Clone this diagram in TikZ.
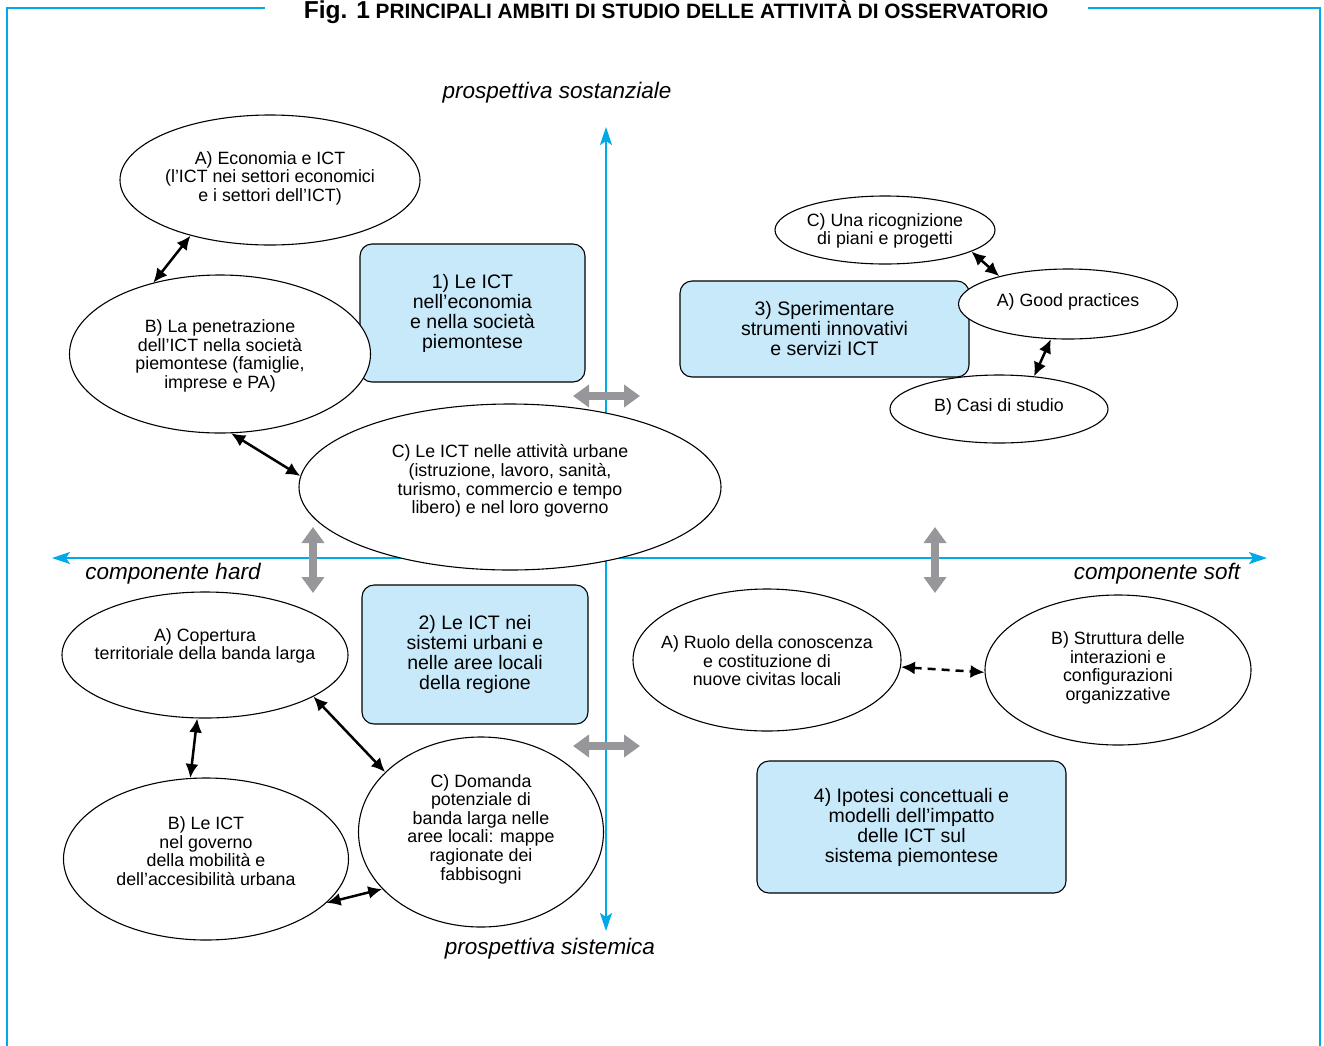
\documentclass[tikz,border=0pt]{standalone}
\usepackage{fontspec}
\setmainfont{Liberation Sans}
\usetikzlibrary{shapes.geometric,arrows.meta}
\definecolor{axcyan}{RGB}{0,170,230}
\definecolor{boxblue}{RGB}{200,233,249}
\definecolor{arrgrey}{RGB}{150,150,155}
\begin{document}
\begin{tikzpicture}[x=1pt,y=-1pt,
  ell/.style={ellipse, draw, fill=white, line width=1.1pt, inner sep=0pt},
  etxt/.style={align=center, inner sep=0pt, font=\fontsize{17.8}{18.6}\selectfont},
  bx/.style={rectangle, rounded corners=12pt, draw, fill=boxblue, line width=1.1pt, align=center, inner sep=0pt, font=\fontsize{19.5}{20}\selectfont},
  biarr/.style={{Latex[length=14pt,width=13pt]}-{Latex[length=14pt,width=13pt]}, line width=2.5pt},
  grarr/.style={{Triangle[length=16pt,width=22pt]}-{Triangle[length=16pt,width=22pt]}, line width=7.5pt, draw=arrgrey, fill=arrgrey},
  axisline/.style={draw=axcyan, line width=2.2pt, -{Stealth[length=18pt,width=12pt,inset=4pt]}},
  axlab/.style={inner sep=0pt, font=\fontsize{22.5}{26}\selectfont\itshape},
  framel/.style={draw=axcyan, line width=2pt}
]
\useasboundingbox (0,0) rectangle (1324,1045);
% frame
\coordinate (fa) at (265,8);
\coordinate (fb) at (7,1046);
\coordinate (fc) at (1088,8);
\coordinate (fd) at (1320,1046);
\draw[framel] (fa) -| (fb);
\draw[framel] (fc) -| (fd);
% title
\node[anchor=base, inner sep=0pt] (title) at (676,18.5) {{\fontsize{24.5}{26}\selectfont\bfseries Fig. 1}\ \ {\fontsize{20.8}{22}\selectfont\bfseries PRINCIPALI AMBITI DI STUDIO DELLE ATTIVITÀ DI OSSERVATORIO}};
% axes
\coordinate (axc) at (606,558);
\coordinate (axtop) at (606,127);
\coordinate (axbot) at (606,931);
\coordinate (axl) at (52,558);
\coordinate (axr) at (1267,558);
\draw[axisline] (axc) -- (axtop);
\draw[axisline] (axc) -- (axbot);
\draw[axisline] (axc) -- (axl);
\draw[axisline] (axc) -- (axr);
\node[axlab] (lsost) at (557,93) {prospettiva sostanziale};
\node[axlab] (lsist) at (550,949) {prospettiva sistemica};
\node[axlab] (lhard) at (173,574) {componente hard};
\node[axlab] (lsoft) at (1157,574) {componente soft};
% grey arrows
\coordinate (g1a) at (573,396); \coordinate (g1b) at (640,396);
\coordinate (g2a) at (313,527); \coordinate (g2b) at (313,593);
\coordinate (g3a) at (573,746); \coordinate (g3b) at (640,746);
\coordinate (g4a) at (935,527); \coordinate (g4b) at (935,593);
\draw[grarr] (g1a) -- (g1b);
\draw[grarr] (g2a) -- (g2b);
\draw[grarr] (g3a) -- (g3b);
\draw[grarr] (g4a) -- (g4b);
% boxes
\node[bx, minimum width=225pt, minimum height=138pt] (b1) at (472.5,313) {1) Le ICT\\nell’economia\\e nella società\\piemontese};
\node[bx, minimum width=226pt, minimum height=139pt] (b2) at (475,654.5) {2) Le ICT nei\\sistemi urbani e\\nelle aree locali\\della regione};
\node[bx, minimum width=289pt, minimum height=96pt] (b3) at (824.5,329) {3) Sperimentare\\strumenti innovativi\\e servizi ICT};
\node[bx, minimum width=309pt, minimum height=132pt] (b4) at (911.5,827) {4) Ipotesi concettuali e\\modelli dell’impatto\\delle ICT sul\\sistema piemontese};
% ellipses
\node[ell, minimum width=300pt, minimum height=130pt] (e1) at (270,180) {};
\node[etxt] (e1t) at (270,178) {A) Economia e ICT\\(l’ICT nei settori economici\\e i settori dell’ICT)};
\node[ell, minimum width=301pt, minimum height=158pt] (e2) at (220,354) {};
\node[etxt] (e2t) at (220,356) {B) La penetrazione\\dell’ICT nella società\\piemontese (famiglie,\\imprese e PA)};
\node[ell, minimum width=422pt, minimum height=166pt] (e3) at (510,487) {};
\node[etxt] (e3t) at (510,481) {C) Le ICT nelle attività urbane\\(istruzione, lavoro, sanità,\\turismo, commercio e tempo\\libero) e nel loro governo};
\node[ell, minimum width=220pt, minimum height=68pt] (ric) at (885,230) {};
\node[etxt] (rict) at (885,231) {C) Una ricognizione\\di piani e progetti};
\node[ell, minimum width=219pt, minimum height=70pt] (good) at (1068,304) {};
\node[etxt] (goodt) at (1068,302) {A) Good practices};
\node[ell, minimum width=218pt, minimum height=68pt] (casi) at (999,409) {};
\node[etxt] (casit) at (999,407) {B) Casi di studio};
\node[ell, minimum width=268pt, minimum height=142pt] (ruo) at (767,660) {};
\node[etxt] (ruot) at (767,661) {A) Ruolo della conoscenza\\e costituzione di\\nuove civitas locali};
\node[ell, minimum width=266pt, minimum height=150pt] (str) at (1118,670) {};
\node[etxt] (strt) at (1118,668) {B) Struttura delle\\interazioni e\\configurazioni\\organizzative};
\node[ell, minimum width=286pt, minimum height=126pt] (cop) at (205,655) {};
\node[etxt] (copt) at (205,646) {A) Copertura\\territoriale della banda larga};
\node[ell, minimum width=285pt, minimum height=162pt] (gov) at (206,859) {};
\node[etxt] (govt) at (206,851) {B) Le ICT\\nel governo\\della mobilità e\\dell’accesibilità urbana};
\node[ell, minimum width=245pt, minimum height=190pt] (dom) at (481,832) {};
\node[etxt] (domt) at (481,829) {C) Domanda\\potenziale di\\banda larga nelle\\aree locali: mappe\\ragionate dei\\fabbisogni};
% black arrows
\draw[biarr] (e1.215) -- (e2.133);
\draw[biarr] (e2.278) -- (e3.177);
\draw[biarr] (ric.346) -- (good.158);
\draw[biarr] (good.244) -- (casi.43);
\draw[biarr] (cop.263) -- (gov.101);
\draw[biarr] (cop.339) -- (dom.148);
\draw[biarr] (gov.340) -- (dom.210);
\draw[biarr, dash pattern=on 8pt off 6pt] (ruo.357) -- (str.181);
\end{tikzpicture}
\end{document}
